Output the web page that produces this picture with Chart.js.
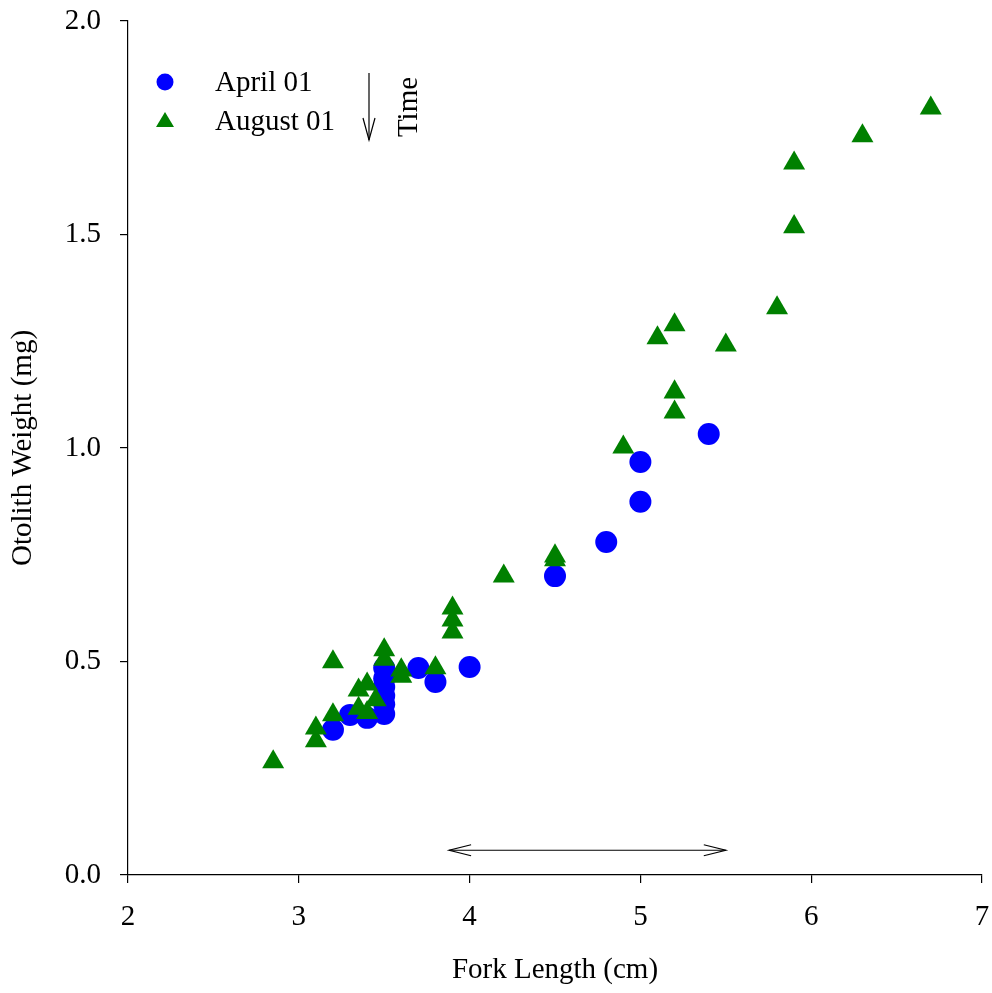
<!DOCTYPE html>
<html>
<head>
<meta charset="utf-8">
<script src="https://cdn.jsdelivr.net/npm/chart.js@4/dist/chart.umd.min.js"></script>
<style>
html, body { margin:0; padding:0; background:#fff; }
#wrap { width:992px; height:993px; }
</style>
</head>
<body>
<div id="wrap"><canvas id="chart" width="992" height="993"></canvas></div>
<script>

/* ===========================
   DATA
=========================== */

const aprilLength = [3.2, 3.3, 3.4, 3.5, 3.5, 3.5, 3.5, 3.5, 3.5, 3.7, 3.8, 4.0, 4.5, 4.8, 5.0, 5.0, 5.4];
const aprilWeight = [0.340, 0.375, 0.368, 0.377, 0.400, 0.420, 0.440, 0.460, 0.485, 0.485, 0.452, 0.487, 0.700, 0.780, 0.874, 0.967, 1.033];

const augustLength = [2.85, 3.1, 3.1, 3.2, 3.2, 3.35, 3.4, 3.35, 3.4, 3.45, 3.5, 3.5, 3.6, 3.6, 3.8, 3.9, 3.9, 3.9, 4.2, 4.5, 4.5, 4.9, 5.1, 5.2, 5.2, 5.2, 5.5, 5.8, 5.9, 5.9, 6.3, 6.7];
const augustWeight = [0.265, 0.314, 0.344, 0.375, 0.499, 0.433, 0.447, 0.390, 0.380, 0.410, 0.527, 0.505, 0.480, 0.465, 0.485, 0.625, 0.597, 0.569, 0.700, 0.747, 0.738, 1.002, 1.258, 1.288, 1.131, 1.084, 1.241, 1.328, 1.518, 1.667, 1.731, 1.796];

const seriesNames = ["April 01", "August 01"];

const xTicks = [2, 3, 4, 5, 6, 7];
const yTicks = [0, 0.5, 1.0, 1.5, 2.0];

// double arrow under the points (fork length range, height)
const spanFrom = 3.88;
const spanTo = 5.5;
const spanY = 0.058;

const font = "'Liberation Serif', 'Times New Roman', serif";
const fontSize = 29;

function toPoints(xs, ys){
    return xs.map((x, i) => ({ x: x, y: ys[i] }));
}

/* ===========================
   ANNOTATIONS
=========================== */

function arrowHead(c, x, y, dx, dy, len, half){
    // open V head pointing along (dx,dy)
    const px = -dy, py = dx;
    c.beginPath();
    c.moveTo(x - dx * len + px * half, y - dy * len + py * half);
    c.lineTo(x, y);
    c.lineTo(x - dx * len - px * half, y - dy * len - py * half);
    c.stroke();
}

const extras = {
    id: "extras",
    afterDraw(chart){
        const c = chart.ctx;
        const area = chart.chartArea;
        const xs = chart.scales.x;
        const ys = chart.scales.y;

        c.save();
        c.strokeStyle = "#000";
        c.lineWidth = 1.2;

        // legend
        const lx = area.left + 37;
        c.fillStyle = "#0000ff";
        c.beginPath();
        c.arc(lx, area.top + 61, 8.5, 0, Math.PI * 2);
        c.fill();

        c.fillStyle = "#008000";
        const ty = area.top + 100;
        c.beginPath();
        c.moveTo(lx, ty - 9);
        c.lineTo(lx + 9, ty + 6);
        c.lineTo(lx - 9, ty + 6);
        c.closePath();
        c.fill();

        c.fillStyle = "#000";
        c.font = fontSize + "px " + font;
        c.textAlign = "left";
        c.textBaseline = "middle";
        c.fillText(seriesNames[0], area.left + 87, area.top + 62);
        c.fillText(seriesNames[1], area.left + 87, area.top + 101);

        // time arrow
        const ax = area.left + 241;
        c.beginPath();
        c.moveTo(ax, area.top + 52);
        c.lineTo(ax, area.top + 119);
        c.stroke();
        arrowHead(c, ax, area.top + 119, 0, 1, 22, 6);

        c.save();
        c.translate(area.left + 281, area.top + 86);
        c.rotate(-Math.PI / 2);
        c.textAlign = "center";
        c.fillText("Time", 0, 0);
        c.restore();

        // span arrow
        const x1 = xs.getPixelForValue(spanFrom);
        const x2 = xs.getPixelForValue(spanTo);
        const y1 = ys.getPixelForValue(spanY);
        c.beginPath();
        c.moveTo(x1, y1);
        c.lineTo(x2, y1);
        c.stroke();
        arrowHead(c, x1, y1, -1, 0, 22, 5.5);
        arrowHead(c, x2, y1, 1, 0, 22, 5.5);

        c.restore();
    }
};

/* ===========================
   CHART
=========================== */

const chart = new Chart(document.getElementById("chart"), {

    type: "scatter",

    data: {
        datasets: [
            {
                label: seriesNames[0],
                data: toPoints(aprilLength, aprilWeight),
                pointStyle: "circle",
                pointRadius: 11,
                pointHoverRadius: 11,
                borderWidth: 0,
                backgroundColor: "#0000ff",
                order: 1
            },
            {
                label: seriesNames[1],
                data: toPoints(augustLength, augustWeight),
                pointStyle: "triangle",
                pointRadius: 12.7,
                pointHoverRadius: 12.7,
                borderWidth: 0,
                backgroundColor: "#008000",
                order: 0
            }
        ]
    },

    options: {
        responsive: false,
        animation: false,
        events: [],
        layout: { autoPadding: false, padding: { top: 21, right: 10, left: 0, bottom: 0 } },
        plugins: {
            legend: { display: false },
            tooltip: { enabled: false }
        },
        scales: {
            x: {
                type: "linear",
                min: 2,
                max: 7,
                afterBuildTicks(s){ s.ticks = xTicks.map(v => ({ value: v })); },
                afterFit(s){
                    s.height = 118;
                    s.paddingLeft = 0;
                    s.paddingRight = 0;
                },
                grid: { drawOnChartArea: false, drawTicks: true, tickLength: 8, color: "#000", lineWidth: 1.2 },
                border: { display: true, color: "#000", width: 1.2 },
                ticks: {
                    color: "#000",
                    padding: 17,
                    font: { family: font, size: fontSize },
                    maxRotation: 0,
                    callback: v => String(v)
                },
                title: {
                    display: true,
                    text: "Fork Length (cm)",
                    color: "#000",
                    font: { family: font, size: fontSize },
                    padding: { top: 0, bottom: 5 }
                }
            },
            y: {
                type: "linear",
                min: 0,
                max: 2,
                afterBuildTicks(s){ s.ticks = yTicks.map(v => ({ value: v })); },
                afterFit(s){
                    s.width = 128;
                    s.paddingTop = 0;
                    s.paddingBottom = 0;
                },
                grid: { drawOnChartArea: false, drawTicks: true, tickLength: 8, color: "#000", lineWidth: 1.2 },
                border: { display: true, color: "#000", width: 1.2 },
                ticks: {
                    color: "#000",
                    padding: 19,
                    font: { family: font, size: fontSize },
                    callback: v => v.toFixed(1)
                },
                title: {
                    display: true,
                    text: "Otolith Weight (mg)",
                    color: "#000",
                    font: { family: font, size: fontSize },
                    padding: { top: 6, bottom: 0 }
                }
            }
        }
    },

    plugins: [extras]
});

</script>
</body>
</html>
